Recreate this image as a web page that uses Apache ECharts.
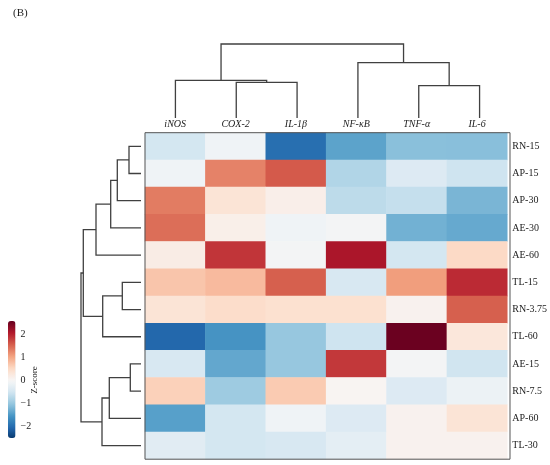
<!DOCTYPE html>
<html><head><meta charset="utf-8">
<script src="https://cdn.jsdelivr.net/npm/echarts@6/dist/echarts.min.js"></script>
<style>html,body{margin:0;padding:0;background:#fff}#c{width:550px;height:465px}</style>
</head><body><div id="c"></div>
<script>
// ---- data ----
const genes = ['iNOS', 'COX-2', 'IL-1β', 'NF-κB', 'TNF-α', 'IL-6'];
const samples = ['RN-15', 'AP-15', 'AP-30', 'AE-30', 'AE-60', 'TL-15', 'RN-3.75', 'TL-60', 'AE-15', 'RN-7.5', 'AP-60', 'TL-30'];
// z-scores per sample row (columns in gene order)
const zRN15  = [-0.47, -0.10, -1.98, -1.40, -1.09, -1.10];
const zAP15  = [-0.10,  1.30,  1.60, -0.78, -0.36, -0.52];
const zAP30  = [ 1.35,  0.36,  0.16, -0.68, -0.62, -1.20];
const zAE30  = [ 1.45,  0.15, -0.10, -0.05, -1.25, -1.33];
const zAE60  = [ 0.20,  1.87, -0.05,  2.13, -0.47,  0.52];
const zTL15  = [ 0.73,  0.83,  1.56, -0.42,  1.09,  1.95];
const zRN375 = [ 0.36,  0.47,  0.42,  0.42,  0.10,  1.56];
const zTL60  = [-2.05, -1.56, -0.99, -0.52,  2.57,  0.31];
const zAE15  = [-0.42, -1.35, -0.99,  1.85, -0.05, -0.50];
const zRN75  = [ 0.62, -0.94,  0.68,  0.05, -0.36, -0.15];
const zAP60  = [-1.43, -0.47, -0.10, -0.36,  0.10,  0.36];
const zTL30  = [-0.31, -0.47, -0.42, -0.26,  0.10,  0.10];
const rows = [zRN15, zAP15, zAP30, zAE30, zAE60, zTL15, zRN375, zTL60, zAE15, zRN75, zAP60, zTL30];
// linkage: [childA, childB, mergeHeight]; ids >= n are earlier merges
const colLinkage = [[1, 2, 35.7], [0, 6, 37.7], [4, 5, 32.3], [3, 8, 55.3], [7, 9, 74]];
const rowLinkage = [[0, 1, 12], [12, 2, 23.7], [13, 3, 30.3], [14, 4, 45], [5, 6, 18.7], [16, 7, 38.3],
                    [15, 17, 57.7], [8, 9, 10.7], [19, 10, 31.7], [20, 11, 39], [18, 21, 60]];
const cbarMin = -2.5, cbarMax = 2.6;
const cbarTicks = [-2, -1, 0, 1, 2];

// ---- helpers ----
const RdBu_r = ['#053061','#2166ac','#4393c3','#92c5de','#d1e5f0','#f7f7f7','#fddbc7','#f4a582','#d6604d','#b2182b','#67001f'];
function hex2rgb(h){return [1,3,5].map(i=>parseInt(h.substr(i,2),16));}
function sample(t){
  const p = t*(RdBu_r.length-1); const i = Math.min(Math.floor(p), RdBu_r.length-2); const f = p-i;
  const a = hex2rgb(RdBu_r[i]), b = hex2rgb(RdBu_r[i+1]);
  return 'rgb(' + a.map((v,k)=>Math.round(v+(b[k]-v)*f)).join(',') + ')';
}
const vr = Math.max(cbarMax, -cbarMin);
const t0 = 0.5 + cbarMin/(2*vr), t1 = 0.5 + cbarMax/(2*vr);
const cmap = []; for (let i=0;i<=40;i++) cmap.push(sample(t0 + (t1-t0)*i/40));

function dendro(linkage, n, horizontal){
  const pos = [], ht = [];
  for (let i=0;i<n;i++){pos[i]=i+0.5; ht[i]=0;}
  const segs = [];
  linkage.forEach(([a,b,h],k)=>{
    const id = n+k; pos[id]=(pos[a]+pos[b])/2; ht[id]=h;
    let c = [[pos[a],ht[a]],[pos[a],h],[pos[b],h],[pos[b],ht[b]]];
    if (horizontal) c = c.map(([p,q])=>[q,p]);
    segs.push({coords:c});
  });
  return segs;
}

const heatData = [];
rows.forEach((r,yi)=>r.forEach((v,xi)=>heatData.push([xi,yi,v])));

const serif = 'Liberation Serif';
const H = {left:145, top:132.7, width:365, height:326.5};
const lineStyle = {color:'#404040', width:1.3, opacity:1};

const chart = echarts.init(document.getElementById('c'));
chart.setOption({
  animation:false,
  backgroundColor:'#fff',
  title:{text:'(B)', left:8, top:3, textStyle:{fontFamily:serif, fontSize:11, fontWeight:'normal', color:'#222'}},
  grid:[
    {left:H.left, top:H.top, width:H.width, height:H.height},
    {left:H.left, top:44, width:H.width, height:74},
    {left:81, top:H.top, width:60, height:H.height},
    {left:8, top:321, width:7.5, height:117}
  ],
  xAxis:[
    {type:'category', gridIndex:0, data:genes, position:'top', axisLine:{show:false}, axisTick:{show:false},
     axisLabel:{fontFamily:serif, fontStyle:'italic', fontSize:10, color:'#222', margin:3}},
    {type:'value', gridIndex:1, min:0, max:genes.length, show:false},
    {type:'value', gridIndex:2, min:0, max:60, inverse:true, show:false},
    {type:'value', gridIndex:3, min:0, max:1, show:false}
  ],
  yAxis:[
    {type:'category', gridIndex:0, data:samples, inverse:true, position:'right', axisLine:{show:false}, axisTick:{show:false},
     axisLabel:{fontFamily:serif, fontSize:10, color:'#222', margin:5}},
    {type:'value', gridIndex:1, min:0, max:74, show:false},
    {type:'value', gridIndex:2, min:0, max:samples.length, inverse:true, show:false},
    {type:'value', gridIndex:3, min:cbarMin, max:cbarMax, position:'right',
     axisLine:{show:false}, splitLine:{show:false},
     axisTick:{show:true, length:3, lineStyle:{color:'#333'}, customValues:cbarTicks},
     axisLabel:{fontFamily:serif, fontSize:10, color:'#222', margin:5, customValues:cbarTicks,
       formatter:v=>v<0?'\u2212'+(-v):String(v)}}
  ],
  visualMap:{type:'continuous', min:cbarMin, max:cbarMax, seriesIndex:0, left:8, top:321,
    itemWidth:7.5, itemHeight:117, calculable:false, padding:0, text:null, showLabel:false,
    inRange:{color:cmap}},
  series:[
    {type:'heatmap', xAxisIndex:0, yAxisIndex:0, data:heatData, itemStyle:{borderWidth:0}, silent:true},
    {type:'lines', coordinateSystem:'cartesian2d', xAxisIndex:1, yAxisIndex:1, polyline:true, clip:false,
     data:dendro(colLinkage, genes.length, false), lineStyle:lineStyle, silent:true},
    {type:'lines', coordinateSystem:'cartesian2d', xAxisIndex:2, yAxisIndex:2, polyline:true, clip:false,
     data:dendro(rowLinkage, samples.length, true), lineStyle:lineStyle, silent:true},
    {type:'scatter', xAxisIndex:3, yAxisIndex:3, data:[], silent:true}
  ],
  graphic:[
    {type:'rect', z:100, silent:true, shape:{x:H.left, y:H.top, width:H.width, height:H.height},
     style:{fill:'none', stroke:'#555', lineWidth:1}},
    {type:'text', x:35, y:380, rotation:Math.PI/2, silent:true,
     style:{text:'Z-score', fontFamily:serif, fontSize:9, fill:'#222', align:'center', verticalAlign:'middle'}}
  ]
});
</script></body></html>
